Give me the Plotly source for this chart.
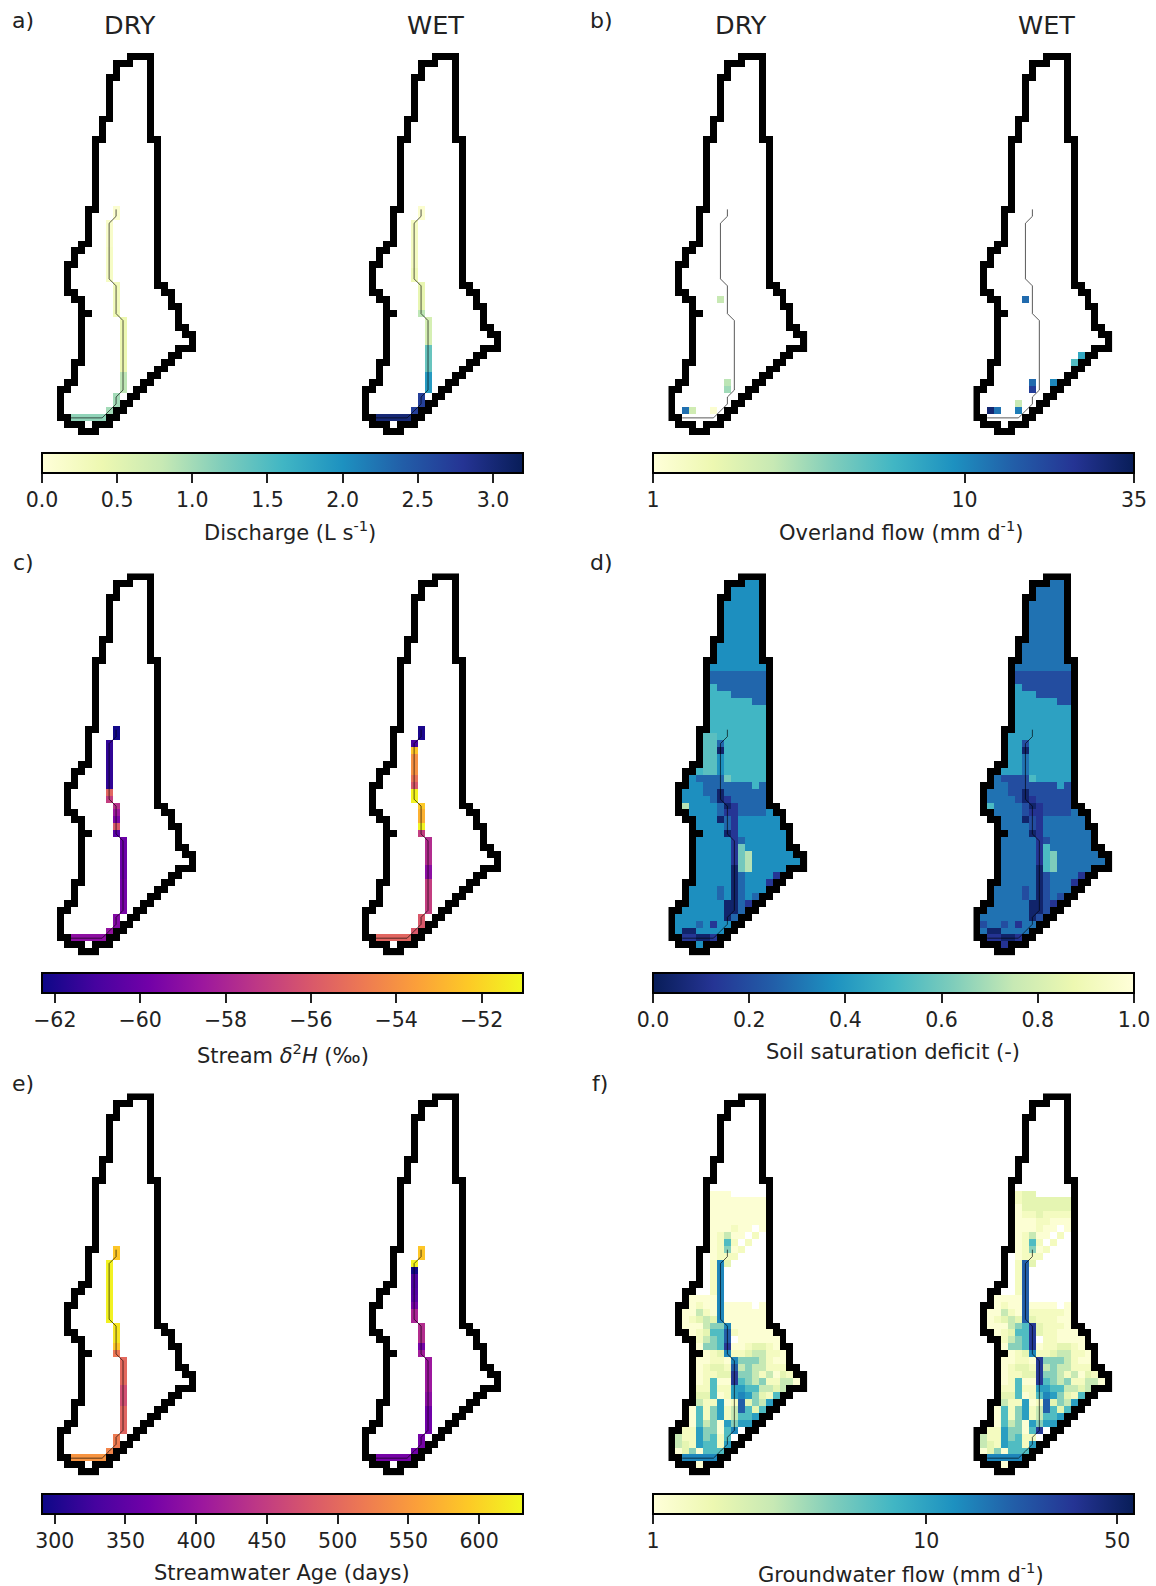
import math
import plotly.graph_objects as go
from plotly.colors import sequential

# ---- catchment mask: '#' outline cell, '.' interior cell
OUTLINE = [
"          ####", "        ###..#", "        #....#", "       ##....#",
"       #.....#", "       #.....#", "       #.....#", "       #.....#", "       #.....#",
"      ##.....#", "      #......#", "      #......#", "     ##......##",
"     #........#", "     #........#", "     #........#", "     #........#", "     #........#",
"     #........#", "     #........#", "     #........#", "     #........#",
"    ##........#", "    #.........#", "    #.........#", "    #.........#", "    #.........#",
"   ##.........#", "  ##..........#", "  #...........#", " ##...........#",
" #............#", " #............#", " #............##", " ##............##",
"  ##............#", "   #............##", "   ##............#", "   #.............#",
"   #.............##", "   #..............##", "   #...............#", "   #.............###",
"   #............##", "  ##...........##", "  #...........##", "  #..........##",
" ##.........##", "##.........##", "#.........##", "#........##", "#.......##",
"##.....##", " ###.###", "   ###",
]

# ---- stream cells, in downstream order
STREAM_COLS = [8, 8] + [7] * 9 + [8] * 5 + [9] * 11 + [8, 8, 7, 6, 5, 4, 3, 2]
STREAM_ROWS = [22, 23] + list(range(24, 33)) + list(range(33, 38)) + list(range(38, 49)) + [49, 50, 51, 52, 52, 52, 52, 52]

# thin stream line vertices
LINE_X = [8.5, 8.5, 7.5, 7.5, 8.5, 8.5, 9.5, 9.5, 8.5, 8.5, 7.5, 6.5, 2.0]
LINE_Y = [22.5, 23.5, 24.5, 32.5, 33.5, 37.5, 38.5, 48.5, 49.5, 50.5, 51.5, 52.5, 52.5]

# ---- a) discharge (L/s)
Q_DRY = [.1, .1, .15, .15, .15, .15, .2, .2, .2, .2, .2, .3, .3, .3, .3, .35,
         .4, .4, .4, .4, .4, .4, .4, .4, .85, .85, .85, 1.0, 1.0, 1.0, 1.1, 1.1, 1.1, 1.1, 1.1]
Q_WET = [.1, .1, .25, .25, .25, .25, .25, .25, .25, .35, .35, .45, .45, .45, .45, .85,
         .65, .65, .65, .65, 1.35, 1.35, 1.35, 1.35, 1.9, 1.9, 1.9, 2.7, 2.7, 2.7, 3.0, 3.0, 3.0, 3.0, 3.0]
Q_TICKS = [0, .5, 1, 1.5, 2, 2.5, 3]

# ---- b) overland flow (mm/d)
OF_DRY_COLS = [7, 8, 8, 2, 3, 6]
OF_DRY_ROWS = [35, 47, 48, 51, 51, 51]
OF_DRY = [2.4, 2.6, 3.1, 12.4, 2.2, 1.1]
OF_WET_COLS = [7, 8, 8, 11, 14, 15, 2, 3, 6, 6]
OF_WET_ROWS = [35, 47, 48, 47, 44, 43, 51, 51, 50, 51]
OF_WET = [12.9, 13, 20.5, 10, 5.3, 7, 29, 12, 2.4, 11]

# ---- c) stream delta2H (permil)
H2_DRY = [-62.2, -62.2, -61.5, -61.5, -61.5, -61.5, -61.5, -61.5, -61.5, -55.5, -57,
          -57.5, -58.5, -59.5, -56, -60.5,
          -60, -60, -60, -60, -60, -60, -59.8, -59.8, -59.8, -59.6, -59.6,
          -59.3, -59.3, -58.8, -59, -59, -59, -59, -59]
H2_WET = [-62, -62, -61, -52.5, -54, -54, -54, -55, -56, -51.2, -51.2,
          -52.3, -53, -53, -51.2, -57,
          -57.7, -57.7, -57.7, -57.7, -59, -59, -57, -57, -57, -57, -57,
          -56, -56, -56, -55.5, -55.5, -55.5, -55.5, -55.5]
H2_TICKS = [-62, -60, -58, -56, -54, -52]

# ---- e) streamwater age (days)
AGE_DRY = [590, 590, 625, 625, 625, 625, 625, 625, 625, 625, 625,
           615, 615, 615, 590, 515,
           500, 500, 500, 500, 470, 470, 470, 495, 495, 495, 495,
           520, 520, 530, 545, 545, 545, 545, 545]
AGE_WET = [590, 590, 625, 292, 335, 335, 340, 345, 370, 420, 420,
           430, 430, 430, 370, 410,
           405, 405, 405, 405, 405, 390, 390, 365, 365, 365, 365,
           370, 370, 365, 370, 370, 370, 370, 370]
AGE_TICKS = [300, 350, 400, 450, 500, 550, 600]

# ---- d) soil saturation deficit: zones by cell
SOIL_ZONES = [
"", "           aa", "         aaaa", "         aaaa",
"        aaaaa", "        aaaaa", "        aaaaa", "        aaaaa", "        aaaaa",
"        aaaaa", "       aaaaaa", "       aaaaaa", "       aaaaaa",
"      aaaaaaaa", "      bbbbbbbb", "      bbbbbbbb", "      cbbbbbbb", "      cccbbbbb",
"      ccccccbb", "      cccccccc", "      cccccccc", "      cccccccc", "      cccccccc",
"     llccccccc", "     llbcccccc", "     llncccccc", "     llacccccc", "     llacccccc",
"    cllacccccc", "   abbbbtccccc", "   aabbbbbbbcb", "  aaabbnbbbbbb", "  aaaabnkbbbbb",
"  gaaaabnkbbbb", "   aaaabkkbbbba", "    aaanbkaaaaaa", "    aaaabkaaaaaa",
"     aaankaaaaaaa", "    aaaaakbaaaaaa", "    aaaaaktaaaaaa", "    aaaaaktgaaaaaa",
"    aaaaaktgaaaaaaa", "    aaaaantgaaaaa", "    aaaaanbaaaak", "    aaaaanbaaak",
"   aaaabanbaaa", "   aaaabanbab", "   aaaaannbk", "  aaaaaannba", " aaaaaaanb",
" aaabakaa", " annaaaa", "  kknnk", "    a", "",
]
SOIL_LEVEL_KEYS = ["a", "b", "c", "l", "t", "g", "n", "k"]
SOIL_LEVELS_DRY = [.37, .27, .50, .55, .60, .72, .04, .13]
SOIL_LEVELS_WET = [.30, .20, .43, .43, .52, .62, .04, .12]
SOIL_WET_ROWS = {50: " baabakaa", 53: "    k", 33: "  taaaabnkbbbb"}
SOIL_TICKS = [0, .2, .4, .6, .8, 1]

# ---- f) groundwater flow: level digit by cell
FLOW_LEVELS = [1.08, 1.38, 1.84, 2.75, 4.3, 6.7, 10.5, 14, 21, 32.6]
FLOW_DRY = [""] * 14 + [
"      000", "      00000000", "      00000000", "      00000000", "      00000000",
"      000100 0", "      01300 1", "      0151 1", "      01401", "      0111", "      172",
"      17", "      17", "      17", "      17",
"   00007", "   010070000 0", "  003107000000", "  012327000000", "  000344700000",
"   012558100000", "    13458 000000", "    044590012210", "     012711233110",
"    0011074443100", "    0122183433111", "    01122944313021", "    015009543411330",
"    1151166553323", "    225016764215", "    31160182436", "   05146138525",
"   0514613556", "   053406466", "  11644057", " 31164515", " 32165516", " 0240555",
"  77777", "    0", "",
]
FLOW_WET_ROWS = {
14: "      122", 15: "      12222222", 16: "      02222222", 17: "      01121111", 18: "      00011000",
24: "      182", 25: "      18", 26: "      18", 27: "      18", 28: "      18",
29: "   00008", 30: "   010080000 0", 31: "  003108111110", 32: "  012328211100",
33: "  000345921110", 34: "   012559211000", 35: "    13459 110000", 36: "    044590112210",
38: "    0011094443100", 39: "    0122193433111", 40: "    01122944313021", 41: "    015009543411330",
43: "    225015764215", 48: "  11644059", 49: " 31164511",
}

# ---- layout helpers
W, H = 1156, 1586
CELL = 6.95
N_COLS, N_ROWS = 20, 55
PANEL_LEFT = [57, 668.3]
WET_OFFSET = 305
PANEL_TOP = [53, 573.3, 1093.3]
BAR_LEFT = [42, 653]
BAR_LEN = 481
BAR_THICK = 20
BAR_TOP = [453, 973, 1494]
FONT = "DejaVu Sans"
TICK_SIZE = 20.5
TITLE_SIZE = 21


def seq(colors):
    return [[i / (len(colors) - 1), c] for i, c in enumerate(colors)]


YGB = seq(sequential.YlGnBu)
YGB_R = seq(sequential.YlGnBu[::-1])
PLASMA = seq(sequential.Plasma)


def empty():
    return [[None] * N_COLS for _ in range(N_ROWS)]


def from_stream(vals):
    z = empty()
    for c, r, v in zip(STREAM_COLS, STREAM_ROWS, vals):
        z[r][c] = v
    return z


def from_sparse(cols, rows, vals):
    z = empty()
    for c, r, v in zip(cols, rows, vals):
        z[r][c] = math.log10(v)
    return z


def from_soil(levels, overrides=None):
    lookup = dict(zip(SOIL_LEVEL_KEYS, levels))
    z = empty()
    for r, s in enumerate(SOIL_ZONES):
        s = (overrides or {}).get(r, s)
        for c, ch in enumerate(s):
            if ch in lookup:
                z[r][c] = lookup[ch]
    return z


def from_flow(base, overrides=None):
    z = empty()
    for r, s in enumerate(base):
        s = (overrides or {}).get(r, s)
        for c, ch in enumerate(s):
            if ch.isdigit():
                z[r][c] = math.log10(FLOW_LEVELS[int(ch)])
    return z


outline_z = empty()
for r, s in enumerate(OUTLINE):
    for c, ch in enumerate(s):
        if ch == "#":
            outline_z[r][c] = 1

Z_Q = (from_stream(Q_DRY), from_stream(Q_WET))
Z_OF = (from_sparse(OF_DRY_COLS, OF_DRY_ROWS, OF_DRY), from_sparse(OF_WET_COLS, OF_WET_ROWS, OF_WET))
Z_H2 = (from_stream(H2_DRY), from_stream(H2_WET))
Z_SOIL = (from_soil(SOIL_LEVELS_DRY), from_soil(SOIL_LEVELS_WET, SOIL_WET_ROWS))
Z_AGE = (from_stream(AGE_DRY), from_stream(AGE_WET))
Z_FLOW = (from_flow(FLOW_DRY), from_flow(FLOW_DRY, FLOW_WET_ROWS))

PANELS = [
    dict(col=0, row=0, z=Z_Q, cs=YGB, zmin=0, zmax=3.2, tv=Q_TICKS, tt=[f"{t:.1f}" for t in Q_TICKS],
         title="Discharge (L s<sup>-1</sup>)", tx=290, ty=531),
    dict(col=1, row=0, z=Z_OF, cs=YGB, zmin=0, zmax=math.log10(35), tv=[0, 1, math.log10(35)], tt=["1", "10", "35"],
         title="Overland flow (mm d<sup>-1</sup>)", tx=901, ty=531),
    dict(col=0, row=1, z=Z_H2, cs=PLASMA, zmin=-62.3, zmax=-51.03, tv=H2_TICKS, tt=[f"\u2212{abs(t)}" for t in H2_TICKS],
         title="Stream <i>\u03b4</i><sup>2</sup><i>H</i> (\u2030)", tx=283, ty=1054),
    dict(col=1, row=1, z=Z_SOIL, cs=YGB_R, zmin=0, zmax=1, tv=SOIL_TICKS, tt=[f"{t:.1f}" for t in SOIL_TICKS],
         title="Soil saturation deficit (-)", tx=893, ty=1052),
    dict(col=0, row=2, z=Z_AGE, cs=PLASMA, zmin=291, zmax=631, tv=AGE_TICKS, tt=[str(t) for t in AGE_TICKS],
         title="Streamwater Age (days)", tx=282, ty=1573),
    dict(col=1, row=2, z=Z_FLOW, cs=YGB, zmin=0, zmax=1.76, tv=[0, 1, math.log10(50)], tt=["1", "10", "50"],
         title="Groundwater flow (mm d<sup>-1</sup>)", tx=901, ty=1573),
]

xs = [c + .5 for c in range(N_COLS)]
ys = [r + .5 for r in range(N_ROWS)]
fig = go.Figure()
layout_axes = {}
axis_n = 0
for p in PANELS:
    for k in range(2):
        axis_n += 1
        xa, ya = f"x{axis_n}", f"y{axis_n}"
        left = PANEL_LEFT[p["col"]] + k * WET_OFFSET
        top = PANEL_TOP[p["row"]]
        layout_axes[f"xaxis{axis_n}"] = dict(domain=[left / W, (left + N_COLS * CELL) / W], range=[0, N_COLS],
                                            visible=False, anchor=ya, fixedrange=True)
        layout_axes[f"yaxis{axis_n}"] = dict(domain=[1 - (top + N_ROWS * CELL) / H, 1 - top / H], range=[N_ROWS, 0],
                                            visible=False, anchor=xa, fixedrange=True)
        trace = dict(x=xs, y=ys, z=p["z"][k], colorscale=p["cs"], zmin=p["zmin"], zmax=p["zmax"], xaxis=xa, yaxis=ya,
                     hoverongaps=False, showscale=False)
        if k == 0:
            trace["showscale"] = True
            trace["colorbar"] = dict(
                orientation="h", lenmode="pixels", len=BAR_LEN, thicknessmode="pixels", thickness=BAR_THICK,
                x=(BAR_LEFT[p["col"]] + BAR_LEN / 2) / W, xanchor="center",
                y=1 - BAR_TOP[p["row"]] / H, yanchor="top", xpad=0, ypad=0,
                outlinecolor="black", outlinewidth=2, ticks="outside", ticklen=9, tickwidth=1.5, tickcolor="#222",
                tickmode="array", tickvals=p["tv"], ticktext=p["tt"],
                tickfont=dict(family=FONT, size=TICK_SIZE, color="#222"),
            )
        fig.add_trace(go.Heatmap(**trace))
        fig.add_trace(go.Heatmap(x=xs, y=ys, z=outline_z, colorscale=[[0, "black"], [1, "black"]], zmin=0, zmax=1,
                                 showscale=False, xaxis=xa, yaxis=ya, hoverinfo="skip"))
        fig.add_trace(go.Scatter(x=LINE_X, y=LINE_Y, mode="lines", line=dict(color="rgba(0,0,0,0.65)", width=1),
                                 xaxis=xa, yaxis=ya, showlegend=False, hoverinfo="skip"))


def note(text, x, y, size):
    return dict(text=text, x=x / W, y=1 - y / H, xref="paper", yref="paper", showarrow=False, xanchor="center",
                yanchor="middle", font=dict(family=FONT, size=size, color="#222"))


annotations = []
for label, x, y in [("a)", 23, 20), ("b)", 601, 20), ("c)", 23, 562), ("d)", 601, 562), ("e)", 23, 1083), ("f)", 600, 1083)]:
    annotations.append(note(label, x, y, 22))
for label, x in [("DRY", 130), ("WET", 435.5), ("DRY", 741), ("WET", 1046.5)]:
    annotations.append(note(label, x, 25, 25.5))
for p in PANELS:
    annotations.append(note(p["title"], p["tx"], p["ty"], TITLE_SIZE))

fig.update_layout(width=W, height=H, margin=dict(l=0, r=0, t=0, b=0, autoexpand=False), paper_bgcolor="white",
                  plot_bgcolor="rgba(0,0,0,0)", showlegend=False, annotations=annotations, **layout_axes)
fig.write_html("out.html", config={"displayModeBar": False},
               post_script="document.body.style.margin='0';document.body.style.background='white';")
